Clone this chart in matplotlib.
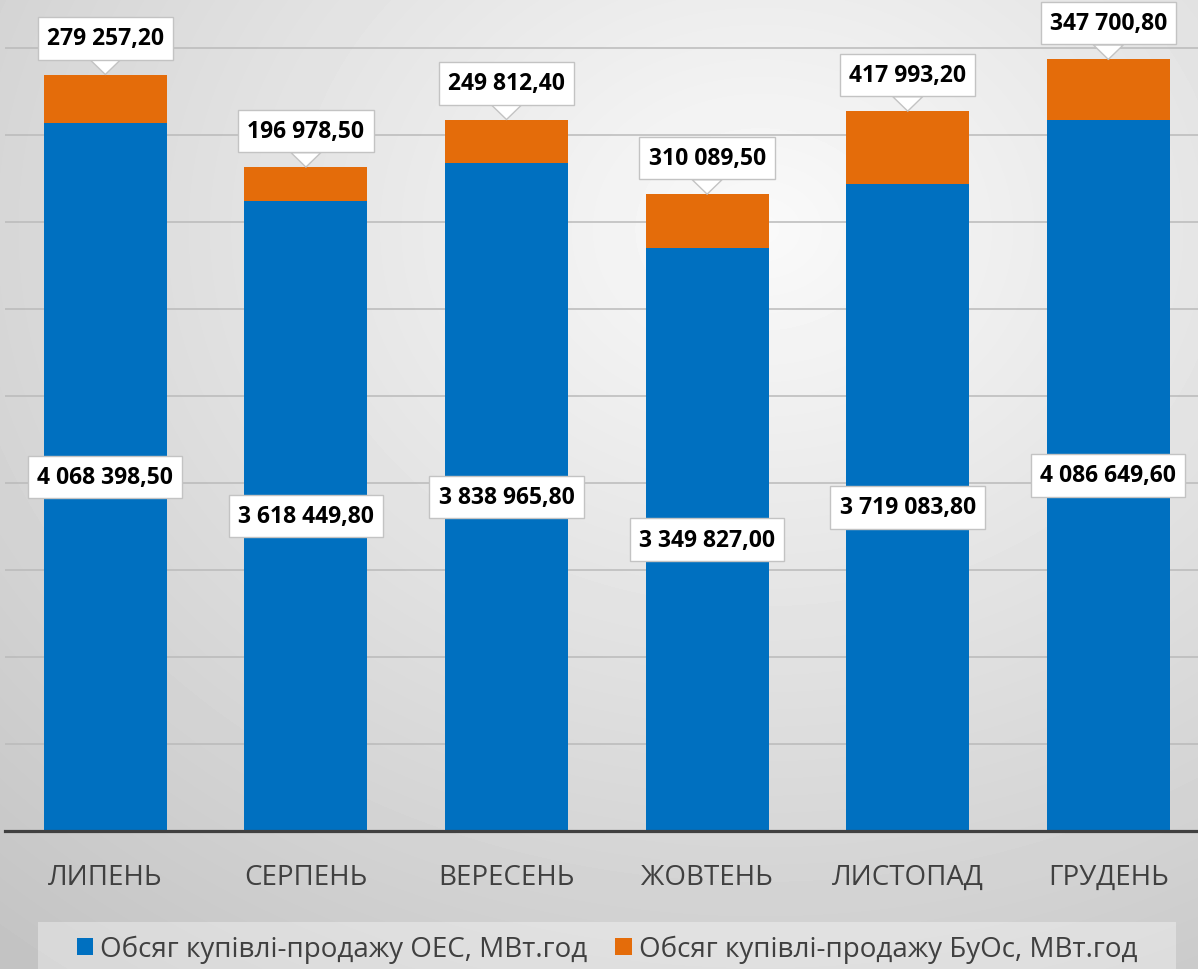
import numpy as np
import matplotlib.pyplot as plt
from matplotlib.patches import Patch, Rectangle

# monthly volumes, MWh
months = ['ЛИПЕНЬ', 'СЕРПЕНЬ', 'ВЕРЕСЕНЬ', 'ЖОВТЕНЬ', 'ЛИСТОПАД', 'ГРУДЕНЬ']
oes = [4068398.50, 3618449.80, 3838965.80, 3349827.00, 3719083.80, 4086649.60]
buos = [279257.20, 196978.50, 249812.40, 310089.50, 417993.20, 347700.80]
series_names = ['Обсяг купівлі-продажу ОЕС, МВт.год', 'Обсяг купівлі-продажу БуОс, МВт.год']

blue = '#0070C0'
orange = '#E46C0A'
text_gray = '#404040'


def fmt(v):
    # 4 068 398,50 style
    return f'{v:,.2f}'.replace(',', ' ').replace('.', ',')


plt.rcParams['font.family'] = ['Open Sans', 'DejaVu Sans']

W, H = 1198, 970
fig = plt.figure(figsize=(W / 100, H / 100), dpi=100)

# soft radial grey background
bg = fig.add_axes([0, 0, 1, 1], zorder=-10)
yy, xx = np.mgrid[0:H, 0:W]
d = np.hypot((xx - 760) / W, (yy - 230) / H)
shade = np.clip(0.98 - 0.22 * d, 0.76, 0.98)
bg.imshow(shade, cmap='gray', vmin=0, vmax=1, aspect='auto')
bg.axis('off')

ax = fig.add_axes([5 / W, 138 / H, (W - 5) / W, 832 / H])
ax.set_facecolor('none')

x = np.arange(len(months))
bw = 0.613
ax.bar(x, oes, width=bw, color=blue, zorder=2)
totals = [a + b for a, b in zip(oes, buos)]
ax.bar(x, buos, width=bw, bottom=oes, color=orange, zorder=2)

ax.set_xlim(-0.5, 5.447)
ax.set_ylim(0, 4.7816e6)
ax.set_yticks(np.arange(0, 4.6e6, 5e5))
ax.tick_params(axis='y', length=0, labelleft=False)
ax.grid(axis='y', color='#bababa', linewidth=1.1, zorder=0)
ax.set_axisbelow(True)
for s in ['left', 'right', 'top']:
    ax.spines[s].set_visible(False)
ax.spines['bottom'].set_color(text_gray)
ax.spines['bottom'].set_linewidth(2.3)
ax.spines['bottom'].set_zorder(3)

ax.set_xticks(x)
ax.set_xticklabels(months, fontsize=20, color=text_gray)
ax.tick_params(axis='x', length=0, pad=23)

box = dict(boxstyle='square,pad=0.4', fc='white', ec='#c3c3c3', lw=1)

for i in x:
    ax.text(i, oes[i] / 2, fmt(oes[i]), ha='center', va='center',
            fontsize=16.5, fontweight='bold', color='black', bbox=box, zorder=5)
    ax.annotate(fmt(buos[i]), xy=(i, totals[i]), xytext=(0, 26),
                textcoords='offset points', ha='center', va='center',
                fontsize=16.5, fontweight='bold', color='black', bbox=box,
                arrowprops=dict(arrowstyle='wedge,tail_width=1.3,shrink_factor=0.5',
                                fc='white', ec='#c3c3c3', lw=1,
                                shrinkA=0, shrinkB=0),
                zorder=5)

# legend strip
fig.add_artist(Rectangle((38 / W, 0), (1176 - 38) / W, (H - 923) / H,
                         transform=fig.transFigure, fc='white', alpha=0.35,
                         ec='none', zorder=-5))
handles = [Patch(fc=blue), Patch(fc=orange)]
fig.legend(handles, series_names, loc='center', bbox_to_anchor=(607 / W, 1 - 950 / H),
           ncol=2, frameon=False, fontsize=20, labelcolor=text_gray,
           handlelength=0.6, handleheight=0.6, handletextpad=0.25, columnspacing=1.0)

fig.savefig('out.png', dpi=100)
